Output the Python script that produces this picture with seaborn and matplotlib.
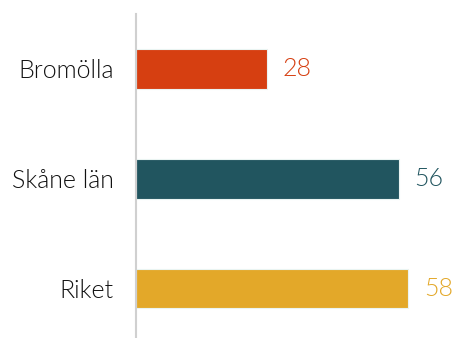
import seaborn as sns
import matplotlib.pyplot as plt
import pandas as pd

categories = ["Bromölla", "Skåne län", "Riket"]
values = [28, 56, 58]
colors = ["#D63F11", "#21555F", "#E3A829"]

df = pd.DataFrame({"Område": categories, "Värde": values})

sns.set_style("white")
plt.rcParams['font.family'] = ['Lato', 'DejaVu Sans']

fig = plt.figure(figsize=(4.53, 3.38), dpi=100)
ax = fig.add_axes([0.300, 0.0, 0.70, 0.9586])

sns.barplot(data=df, x="Värde", y="Område", hue="Område", palette=colors,
            orient="h", width=0.36, legend=False, ax=ax, saturation=1,
            edgecolor="#eaf4f2", linewidth=0.8)

for i, (v, c) in enumerate(zip(values, colors)):
    ax.text(v + 3.3, i, str(v), color=c, fontsize=18, fontweight=300,
            va="center", ha="left")

ax.set_xlim(0, 67.5)
ax.set_ylim(2.45, -0.5)
ax.set_xlabel("")
ax.set_ylabel("")
ax.set_xticks([])
ax.tick_params(axis="y", length=0, pad=16, labelsize=18, labelcolor="#111111")
for lbl in ax.get_yticklabels():
    lbl.set_fontweight(300)

for s in ["top", "right", "bottom"]:
    ax.spines[s].set_visible(False)
ax.spines["left"].set_color("#d0d0d0")
ax.spines["left"].set_linewidth(1.5)

plt.savefig("out.png", dpi=100)
